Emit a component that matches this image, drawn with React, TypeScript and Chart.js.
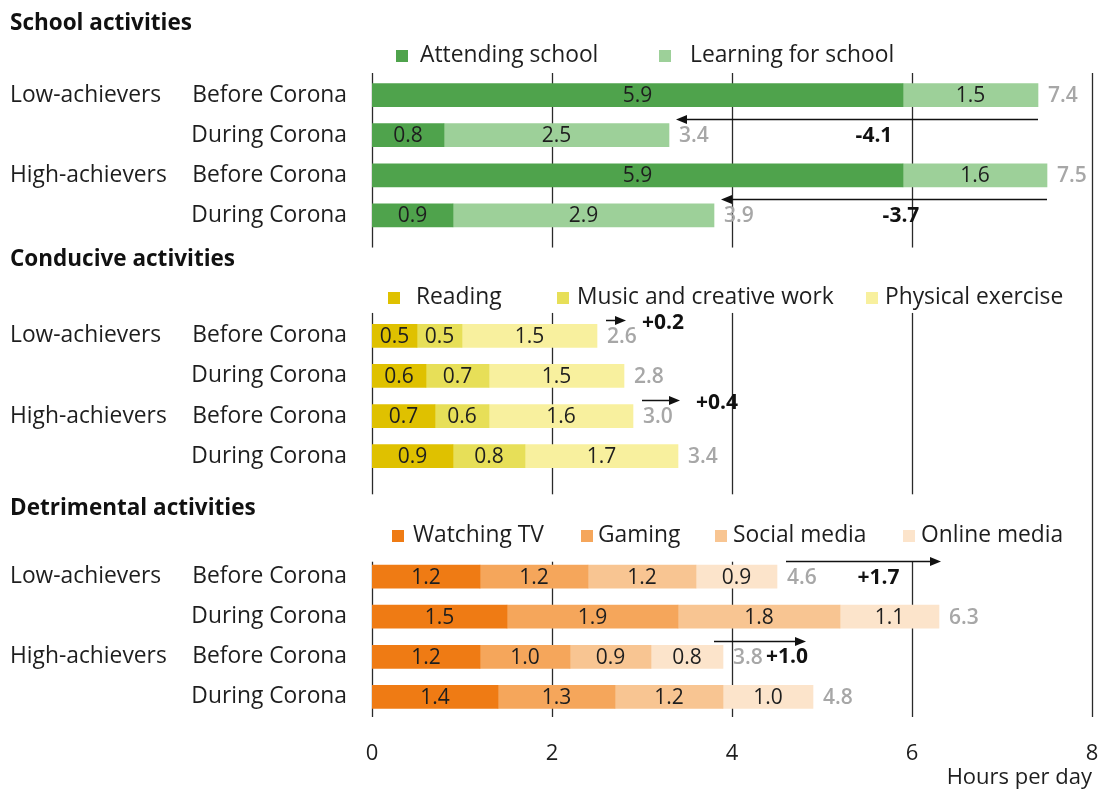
import React, { useEffect, useRef } from 'react';
import { Chart, registerables } from 'chart.js';

Chart.register(...registerables);

// ---------------- data ----------------
const xTicks = [0, 2, 4, 6, 8];
const xMax = 8;
const axisTitle = 'Hours per day';

const panelTitles = ['School activities', 'Conducive activities', 'Detrimental activities'];
const groupLabels = ['Low-achievers', 'High-achievers'];
const periodLabels = ['Before Corona', 'During Corona', 'Before Corona', 'During Corona'];

const schoolSeries = ['Attending school', 'Learning for school'];
const attendingSchool = [5.9, 0.8, 5.9, 0.9];
const learningForSchool = [1.5, 2.5, 1.6, 2.9];
const schoolTotals = [7.4, 3.4, 7.5, 3.9];
const schoolChanges = ['-4.1', '-3.7'];

const conduciveSeries = ['Reading', 'Music and creative work', 'Physical exercise'];
const reading = [0.5, 0.6, 0.7, 0.9];
const musicCreative = [0.5, 0.7, 0.6, 0.8];
const physicalExercise = [1.5, 1.5, 1.6, 1.7];
const conduciveTotals = [2.6, 2.8, 3.0, 3.4];
const conduciveChanges = ['+0.2', '+0.4'];

const detrimentalSeries = ['Watching TV', 'Gaming', 'Social media', 'Online media'];
const watchingTV = [1.2, 1.5, 1.2, 1.4];
const gaming = [1.2, 1.9, 1.0, 1.3];
const socialMedia = [1.2, 1.8, 0.9, 1.2];
const onlineMedia = [0.9, 1.1, 0.8, 1.0];
const detrimentalTotals = [4.6, 6.3, 3.8, 4.8];
const detrimentalChanges = ['+1.7', '+1.0'];

// ---------------- layout / style ----------------
const FAMILY = '"Open Sans", "Noto Sans", sans-serif';
const font = (size: number, weight: string | number = 'normal') => `${weight} ${size}px ${FAMILY}`;
const TEXT = '#1e1e1e';
const TOTAL_COLOR = '#a7a7a7';
const GRID_COLOR = '#2a2a2a';
const ROWS = 16;
const LABEL_SIZE = 22.8;

type Panel = {
  title: string;
  series: string[];
  values: number[][];
  colors: string[];
  totals: number[];
  changes: string[];
  changeModes: string[];
  startRow: number;
  titleY: number;
  legendY: number;
  legendPos: number[][];
  gridFrom: number;
  gridTo: number;
};

const panels: Panel[] = [
  {
    title: panelTitles[0],
    series: schoolSeries,
    values: [attendingSchool, learningForSchool],
    colors: ['#4fa34c', '#9dd099'],
    totals: schoolTotals,
    changes: schoolChanges,
    changeModes: ['below', 'below'],
    startRow: 0,
    titleY: 24,
    legendY: 56,
    legendPos: [[396, 420], [659, 690]],
    gridFrom: -0.55,
    gridTo: 3.8,
  },
  {
    title: panelTitles[1],
    series: conduciveSeries,
    values: [reading, musicCreative, physicalExercise],
    colors: ['#dfc100', '#e7df58', '#f8f09e'],
    totals: conduciveTotals,
    changes: conduciveChanges,
    changeModes: ['right', 'right'],
    startRow: 6,
    titleY: 260,
    legendY: 298,
    legendPos: [[388, 416], [557, 577], [866, 885]],
    gridFrom: 5.43,
    gridTo: 9.95,
  },
  {
    title: panelTitles[2],
    series: detrimentalSeries,
    values: [watchingTV, gaming, socialMedia, onlineMedia],
    colors: ['#ef7b14', '#f5a65b', '#f8c592', '#fce4cb'],
    totals: detrimentalTotals,
    changes: detrimentalChanges,
    changeModes: ['below', 'end'],
    startRow: 12,
    titleY: 509,
    legendY: 536,
    legendPos: [[392, 413], [581, 598], [715, 733], [903, 921]],
    gridFrom: 11.63,
    gridTo: 15.5,
  },
];

const categories = Array.from({ length: ROWS }, (_, i) => `row${i}`);

function buildDatasets() {
  const ds: any[] = [];
  panels.forEach((p, pi) => {
    p.series.forEach((name, si) => {
      const data: (number | null)[] = new Array(ROWS).fill(null);
      p.values[si].forEach((v, i) => {
        data[p.startRow + i] = v;
      });
      ds.push({
        label: name,
        data,
        backgroundColor: p.colors[si],
        borderWidth: 0,
        barThickness: 23,
        panel: pi,
        seriesIndex: si,
      });
    });
  });
  return ds;
}

const overlayPlugin = {
  id: 'overlay',
  beforeDatasetsDraw(chart: any) {
    const { ctx, scales } = chart;
    const x = scales.x;
    const y = scales.y;
    ctx.save();
    ctx.strokeStyle = GRID_COLOR;
    ctx.lineWidth = 1.3;
    const vline = (v: number, a: number, b: number) => {
      const px = Math.round(x.getPixelForValue(v)) + 0.5;
      ctx.beginPath();
      ctx.moveTo(px, y.getPixelForValue(a));
      ctx.lineTo(px, y.getPixelForValue(b));
      ctx.stroke();
    };
    panels.forEach((p) => {
      xTicks.filter((t) => t < xMax).forEach((t) => vline(t, p.gridFrom, p.gridTo));
    });
    vline(xMax, panels[0].gridFrom, panels[panels.length - 1].gridTo);
    ctx.restore();
  },
  afterDatasetsDraw(chart: any) {
    const { ctx, scales } = chart;
    const x = scales.x;
    const y = scales.y;
    ctx.save();
    ctx.textBaseline = 'middle';

    // value labels inside segments
    ctx.font = font(21);
    ctx.fillStyle = TEXT;
    ctx.textAlign = 'center';
    chart.data.datasets.forEach((ds: any, di: number) => {
      const meta = chart.getDatasetMeta(di);
      ds.data.forEach((v: number | null, i: number) => {
        if (v === null || v === undefined) return;
        const el = meta.data[i];
        const { x: ex, base, y: ey } = el.getProps(['x', 'base', 'y'], true);
        ctx.fillText(v.toFixed(1), (ex + base) / 2, ey + 1);
      });
    });

    panels.forEach((p, pi) => {
      // title
      ctx.textAlign = 'left';
      ctx.fillStyle = '#111';
      ctx.font = font(22.5, 'bold');
      ctx.fillText(p.title, 10, p.titleY);

      // legend
      ctx.font = font(LABEL_SIZE);
      p.series.forEach((name, si) => {
        const [sx, tx] = p.legendPos[si];
        ctx.fillStyle = p.colors[si];
        ctx.fillRect(sx, p.legendY - 6, 12, 12);
        ctx.fillStyle = TEXT;
        ctx.fillText(name, tx, p.legendY);
      });

      // row labels
      p.totals.forEach((_, i) => {
        const row = p.startRow + i;
        const py = y.getPixelForValue(row);
        ctx.font = font(LABEL_SIZE);
        ctx.fillStyle = TEXT;
        if (i % 2 === 0) {
          ctx.textAlign = 'left';
          ctx.fillText(groupLabels[i / 2], 10, py);
        }
        ctx.textAlign = 'right';
        ctx.fillText(periodLabels[i], 347, py);
      });

      // totals
      const dsIdx = chart.data.datasets
        .map((d: any, k: number) => (d.panel === pi ? k : -1))
        .filter((k: number) => k >= 0);
      p.totals.forEach((t, i) => {
        const row = p.startRow + i;
        let end = x.getPixelForValue(0);
        dsIdx.forEach((k: number) => {
          const el = chart.getDatasetMeta(k).data[row];
          if (el) end = Math.max(end, el.getProps(['x'], true).x);
        });
        ctx.font = font(21, 600);
        ctx.fillStyle = TOTAL_COLOR;
        ctx.textAlign = 'left';
        ctx.fillText(t.toFixed(1), end + 10, y.getPixelForValue(row) + 1);
      });

      // change arrows
      p.changes.forEach((label, k) => {
        const before = p.totals[2 * k];
        const during = p.totals[2 * k + 1];
        const x1 = x.getPixelForValue(before);
        const x2 = x.getPixelForValue(during);
        const dir = x2 > x1 ? 1 : -1;
        const rowY = dir < 0 ? y.getPixelForValue(p.startRow + 2 * k + 1) : y.getPixelForValue(p.startRow + 2 * k);
        const ay = Math.round(rowY - 16) + 0.5;
        ctx.strokeStyle = '#111';
        ctx.fillStyle = '#111';
        ctx.lineWidth = 1.5;
        ctx.beginPath();
        ctx.moveTo(x1, ay);
        ctx.lineTo(x2 - dir * 8, ay);
        ctx.stroke();
        ctx.beginPath();
        ctx.moveTo(x2 + dir * 2, ay);
        ctx.lineTo(x2 - dir * 9, ay - 4.5);
        ctx.lineTo(x2 - dir * 9, ay + 4.5);
        ctx.closePath();
        ctx.fill();

        ctx.font = font(21, 'bold');
        ctx.fillStyle = '#111';
        const mode = p.changeModes[k];
        if (mode === 'right') {
          ctx.textAlign = 'left';
          ctx.fillText(label, x2 + 18, ay + 3);
        } else if (mode === 'end') {
          ctx.textAlign = 'right';
          ctx.fillText(label, x2 + 4, ay + 16);
        } else {
          ctx.textAlign = 'center';
          ctx.fillText(label, (x1 + x2) / 2 + 16, ay + 17);
        }
      });
    });
    ctx.restore();
  },
};

export default function App() {
  const ref = useRef<HTMLCanvasElement>(null);
  useEffect(() => {
    if (!ref.current) return;
    const chart = new Chart(ref.current, {
      type: 'bar',
      data: { labels: categories, datasets: buildDatasets() },
      options: {
        animation: false,
        responsive: true,
        maintainAspectRatio: false,
        indexAxis: 'y',
        layout: { padding: { left: 372, right: 10, top: 75, bottom: 0 } },
        plugins: { legend: { display: false }, tooltip: { enabled: false } },
        scales: {
          x: {
            type: 'linear',
            min: 0,
            max: xMax,
            stacked: true,
            grid: { display: false, drawTicks: false },
            border: { display: false },
            ticks: {
              stepSize: 2,
              padding: 24,
              color: TEXT,
              font: { family: FAMILY, size: 22 },
            },
            title: {
              display: true,
              text: axisTitle,
              align: 'end',
              color: TEXT,
              font: { family: FAMILY, size: 22 },
              padding: { top: 0, bottom: 5 },
            },
            afterFit: (s: any) => {
              s.height = 79;
              s.paddingLeft = 0;
              s.paddingRight = 0;
            },
          },
          y: { stacked: true, display: false },
        },
      } as any,
      plugins: [overlayPlugin as any],
    });
    return () => chart.destroy();
  }, []);
  return (
    <div style={{ position: 'fixed', left: 0, top: 0, width: 1102, height: 796, background: '#fff' }}>
      <canvas ref={ref} style={{ display: 'block' }} />
    </div>
  );
}
